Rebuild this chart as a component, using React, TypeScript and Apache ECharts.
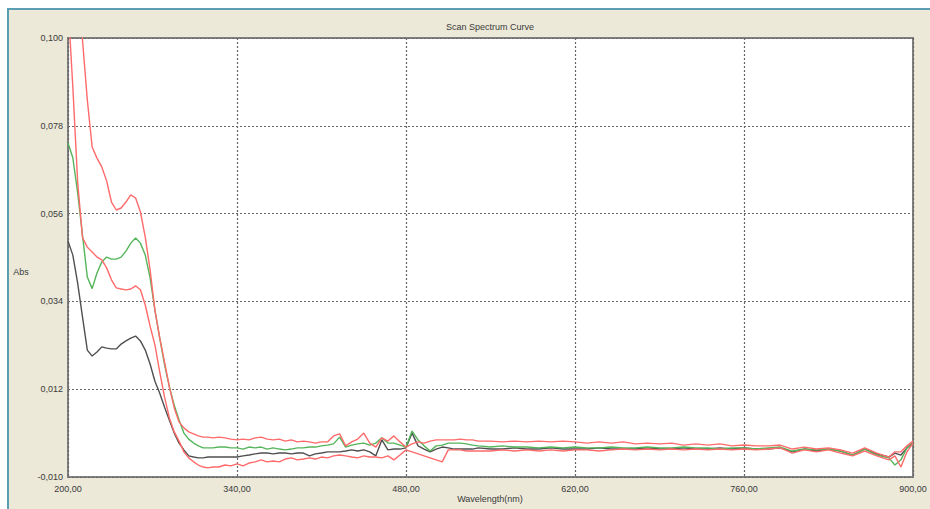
import React, { useEffect, useRef } from "react";
import * as echarts from "echarts";

const wavelengths = [
  200, 204, 208, 212, 216, 220, 224, 228, 232, 236, 240, 244, 248, 252, 256, 260, 264, 268, 272, 276, 280, 284, 288, 292, 296, 300, 304, 308, 312, 316, 320,
  325, 330, 335, 340, 345, 350, 355, 360, 365, 370, 375, 380, 385, 390, 395, 400, 405, 410, 415, 420, 425, 430, 435, 440, 445, 450, 455, 460, 465, 470, 475, 480, 485, 490, 495, 500, 505, 510, 515, 520, 525, 530, 535, 540,
  550, 560, 570, 580, 590, 600, 610, 620, 630, 640, 650, 660, 670, 680, 690, 700, 710, 720, 730, 740, 750, 760, 770, 780, 790, 800, 810, 820, 830, 840, 850, 860, 870, 880, 885, 890, 895, 900,
];

const blackAbs = [
  0.0491, 0.0456, 0.0386, 0.0301, 0.0218, 0.0203, 0.0213, 0.0226, 0.0223, 0.0221, 0.0221, 0.0233, 0.0241, 0.0248, 0.0253, 0.0241, 0.0218, 0.0183, 0.014, 0.011, 0.0075, 0.0042, 0.001, -0.0015, -0.0032, -0.0047, -0.005, -0.0052, -0.0052, -0.005, -0.005,
  -0.005, -0.005, -0.005, -0.005, -0.0047, -0.0045, -0.0042, -0.004, -0.004, -0.0042, -0.004, -0.004, -0.0042, -0.004, -0.004, -0.0047, -0.0042, -0.004, -0.0037, -0.0037, -0.0037, -0.0035, -0.0032, -0.0035, -0.0032, -0.0037, -0.0047, -0.0007, -0.0032, -0.003, -0.003, -0.0027, 0.001, -0.0022, -0.003, -0.0037, -0.003, -0.0025, -0.0027, -0.003, -0.003, -0.003, -0.003, -0.0027,
  -0.003, -0.003, -0.0027, -0.003, -0.003, -0.0027, -0.003, -0.003, -0.003, -0.0027, -0.003, -0.003, -0.003, -0.0027, -0.003, -0.003, -0.0027, -0.003, -0.003, -0.0027, -0.003, -0.0027, -0.003, -0.003, -0.0027, -0.0037, -0.003, -0.0035, -0.003, -0.0035, -0.0045, -0.003, -0.0042, -0.005, -0.004, -0.0045, -0.0027, -0.0015,
];

const greenAbs = [
  0.0737, 0.07, 0.0612, 0.0506, 0.0401, 0.0372, 0.0411, 0.0439, 0.0451, 0.0446, 0.0446, 0.0451, 0.0466, 0.0486, 0.0499, 0.0486, 0.0456, 0.0399, 0.0318, 0.0248, 0.0181, 0.0126, 0.008, 0.0043, 0.001, -0.0005, -0.0015, -0.0022, -0.0027, -0.0027, -0.0027,
  -0.0025, -0.0025, -0.0027, -0.0027, -0.003, -0.0025, -0.0027, -0.0025, -0.003, -0.0027, -0.003, -0.0032, -0.003, -0.0027, -0.0027, -0.0025, -0.0025, -0.0022, -0.002, -0.0017, 0.0, -0.0025, -0.002, -0.0017, -0.0015, -0.002, -0.0015, -0.0002, -0.0015, -0.0015, -0.002, -0.0025, 0.0015, -0.0007, -0.0022, -0.0035, -0.0022, -0.002, -0.0015, -0.0015, -0.0015, -0.0017, -0.002, -0.0022,
  -0.0025, -0.0022, -0.0025, -0.0025, -0.0027, -0.0025, -0.0027, -0.0025, -0.0027, -0.0027, -0.0025, -0.0027, -0.0027, -0.0025, -0.0027, -0.0027, -0.0025, -0.0027, -0.0027, -0.003, -0.0027, -0.0027, -0.003, -0.0027, -0.0025, -0.0035, -0.003, -0.0032, -0.003, -0.0035, -0.0045, -0.003, -0.0045, -0.0052, -0.007, -0.0057, -0.0027, -0.0012,
];

const redUpperAbs = [
  0.1526, 0.1358, 0.1185, 0.0995, 0.0845, 0.0727, 0.0699, 0.0677, 0.0642, 0.0589, 0.0569, 0.0574, 0.0589, 0.0607, 0.0599, 0.0564, 0.0501, 0.0419, 0.0318, 0.0248, 0.0188, 0.0125, 0.0073, 0.0038, 0.0023, 0.0013, 0.0008, 0.0003, 0.0, 0.0, -0.0002,
  0.0, -0.0002, -0.0005, -0.0007, -0.0005, -0.0007, -0.0002, 0.0, -0.0005, -0.0007, -0.0005, -0.001, -0.0007, -0.0012, -0.001, -0.0012, -0.0015, -0.0012, -0.0012, 0.0003, 0.0008, -0.0022, -0.0012, -0.0005, 0.001, -0.0015, -0.0025, -0.0002, -0.001, 0.0003, -0.0012, -0.0025, -0.0017, -0.0012, -0.0015, -0.001, -0.0007, -0.0007, -0.0007, -0.0007, -0.0005, -0.0007, -0.0007, -0.001,
  -0.001, -0.0012, -0.001, -0.0012, -0.001, -0.0012, -0.001, -0.0012, -0.0015, -0.0012, -0.0015, -0.0012, -0.0017, -0.0015, -0.0017, -0.0015, -0.002, -0.0017, -0.002, -0.0017, -0.0022, -0.002, -0.0022, -0.0022, -0.002, -0.003, -0.0025, -0.003, -0.0027, -0.0032, -0.004, -0.0027, -0.004, -0.005, -0.0037, -0.0037, -0.0022, -0.001,
];

const redLowerAbs = [
  0.1088, 0.0877, 0.0639, 0.05, 0.0476, 0.0464, 0.0451, 0.0444, 0.0424, 0.0394, 0.0374, 0.0371, 0.0369, 0.0371, 0.0379, 0.0369, 0.0331, 0.0278, 0.0231, 0.0163, 0.01, 0.0048, 0.0013, -0.001, -0.0037, -0.0052, -0.0062, -0.007, -0.0075, -0.0077, -0.0075,
  -0.0075, -0.007, -0.0072, -0.0067, -0.0072, -0.0065, -0.0062, -0.0057, -0.0062, -0.006, -0.0062, -0.0055, -0.0052, -0.0057, -0.0055, -0.0052, -0.0055, -0.005, -0.0052, -0.0047, -0.0045, -0.0047, -0.005, -0.0052, -0.0047, -0.005, -0.005, -0.0052, -0.0047, -0.0057, -0.0045, -0.0032, -0.0037, -0.0042, -0.0047, -0.0052, -0.0057, -0.0062, -0.0032, -0.0032, -0.0032, -0.0035, -0.0035, -0.0035,
  -0.0035, -0.0032, -0.0035, -0.0032, -0.0035, -0.0032, -0.0035, -0.0032, -0.0032, -0.0035, -0.0032, -0.003, -0.0032, -0.003, -0.0032, -0.003, -0.0032, -0.003, -0.0032, -0.003, -0.0032, -0.003, -0.0032, -0.003, -0.0027, -0.004, -0.0032, -0.0037, -0.0032, -0.004, -0.0047, -0.0035, -0.0047, -0.0057, -0.0047, -0.0075, -0.0037, -0.0015,
];

const xTickLabels = ["200,00", "340,00", "480,00", "620,00", "760,00", "900,00"];
const yTickLabels = ["-0,010", "0,012", "0,034", "0,056", "0,078", "0,100"];

const FONT = "'Liberation Sans', Arial, sans-serif";

export default function App() {
  const ref = useRef<HTMLDivElement>(null);

  useEffect(() => {
    if (!ref.current) return;
    const chart = echarts.init(ref.current, null, { renderer: "svg" });
    const pairs = (vals: number[]) => wavelengths.map((w, i) => [w, vals[i]]);
    const line = (name: string, vals: number[], color: string, z: number) => ({
      name,
      type: "line",
      data: pairs(vals),
      showSymbol: false,
      symbol: "none",
      clip: true,
      z,
      lineStyle: { color, width: 1.4 },
      emphasis: { disabled: true },
    });
    const textStyle = (text: string) => ({
      text,
      fill: "#3a3a3a",
      fontSize: 9,
      fontFamily: FONT,
      textAlign: "center",
      textVerticalAlign: "middle",
      align: "center",
      verticalAlign: "middle",
    });
    chart.setOption({
      animation: false,
      backgroundColor: "transparent",
      grid: {
        left: 68,
        top: 38,
        width: 845,
        height: 439,
        show: true,
        backgroundColor: "#ffffff",
        borderColor: "#808080",
        borderWidth: 2,
      },
      xAxis: {
        type: "value",
        min: 200,
        max: 900,
        interval: 140,
        axisLine: { show: false },
        axisTick: { show: false },
        splitLine: { show: true, lineStyle: { color: "#666666", width: 1.2, type: [2, 2] } },
        axisLabel: {
          fontSize: 9,
          color: "#3a3a3a",
          fontFamily: FONT,
          margin: 7,
          formatter: (v: number) => {
            const i = Math.round((v - 200) / 140);
            return xTickLabels[i] ?? v.toFixed(2).replace(".", ",");
          },
        },
      },
      yAxis: {
        type: "value",
        min: -0.01,
        max: 0.1,
        interval: 0.022,
        axisLine: { show: false },
        axisTick: { show: false },
        splitLine: { show: true, lineStyle: { color: "#666666", width: 1.2, type: [2, 2] } },
        axisLabel: {
          fontSize: 9,
          color: "#3a3a3a",
          fontFamily: FONT,
          margin: 5,
          formatter: (v: number) => {
            const i = Math.round((v + 0.01) / 0.022);
            return yTickLabels[i] ?? v.toFixed(3).replace(".", ",");
          },
        },
      },
      graphic: [
        { type: "text", x: 490, y: 27, style: textStyle("Scan Spectrum Curve") },
        { type: "text", x: 21, y: 272, style: textStyle("Abs") },
        { type: "text", x: 490, y: 499, style: textStyle("Wavelength(nm)") },
      ],
      series: [
        line("Sample 1", blackAbs, "#505050", 3),
        line("Sample 2", greenAbs, "#55b55a", 4),
        line("Sample 3", redUpperAbs, "#ff6a6a", 5),
        line("Sample 4", redLowerAbs, "#ff6a6a", 6),
      ],
    });
    return () => chart.dispose();
  }, []);

  return (
    <div
      style={{
        position: "fixed",
        left: 0,
        top: 0,
        width: 930,
        height: 509,
        background: "#ffffff",
        overflow: "hidden",
      }}
    >
      <div
        style={{
          position: "absolute",
          left: 7,
          top: 8,
          right: 0,
          bottom: 0,
          background: "#ECE9D8",
          borderTop: "2px solid #5b9db3",
          borderLeft: "2px solid #5b9db3",
        }}
      />
      <div ref={ref} style={{ position: "absolute", left: 0, top: 0, width: 930, height: 509 }} />
    </div>
  );
}
